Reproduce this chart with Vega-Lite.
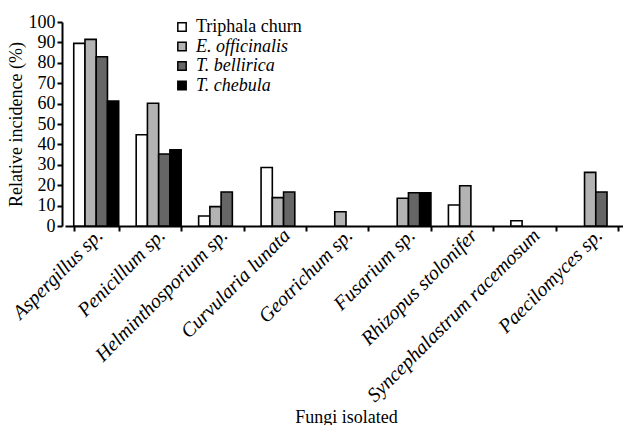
{
  "$schema": "https://vega.github.io/schema/vega-lite/v6.json",
  "width": 562,
  "height": 204,
  "autosize": {"type": "none"},
  "padding": {"left": 65, "top": 22, "right": 0, "bottom": 199},
  "background": "white",
  "config": {
    "view": {"stroke": null},
    "font": "Times New Roman, Liberation Serif, serif",
    "axis": {"grid": false, "domainColor": "black", "tickColor": "black", "labelColor": "black", "titleColor": "black", "domainWidth": 2, "tickWidth": 2, "labelFont": "Times New Roman, Liberation Serif, serif", "titleFont": "Times New Roman, Liberation Serif, serif", "labelFontSize": 18, "titleFontSize": 18, "titleFontWeight": "normal"},
    "legend": {"labelFont": "Times New Roman, Liberation Serif, serif", "labelFontSize": 18, "labelColor": "black"}
  },
  "data": {
    "values": [
      {"fungus": "Aspergillus sp.", "series": "Triphala churn", "value": 89.5},
      {"fungus": "Aspergillus sp.", "series": "E. officinalis", "value": 91.5},
      {"fungus": "Aspergillus sp.", "series": "T. bellirica", "value": 83},
      {"fungus": "Aspergillus sp.", "series": "T. chebula", "value": 61.2},
      {"fungus": "Penicillum sp.", "series": "Triphala churn", "value": 44.7},
      {"fungus": "Penicillum sp.", "series": "E. officinalis", "value": 60.2},
      {"fungus": "Penicillum sp.", "series": "T. bellirica", "value": 35.3},
      {"fungus": "Penicillum sp.", "series": "T. chebula", "value": 37.4},
      {"fungus": "Helminthosporium sp.", "series": "Triphala churn", "value": 4.9},
      {"fungus": "Helminthosporium sp.", "series": "E. officinalis", "value": 9.5},
      {"fungus": "Helminthosporium sp.", "series": "T. bellirica", "value": 16.7},
      {"fungus": "Curvularia lunata", "series": "Triphala churn", "value": 28.7},
      {"fungus": "Curvularia lunata", "series": "E. officinalis", "value": 13.9},
      {"fungus": "Curvularia lunata", "series": "T. bellirica", "value": 16.7},
      {"fungus": "Geotrichum sp.", "series": "E. officinalis", "value": 7.0},
      {"fungus": "Fusarium sp.", "series": "E. officinalis", "value": 13.6},
      {"fungus": "Fusarium sp.", "series": "T. bellirica", "value": 16.3},
      {"fungus": "Fusarium sp.", "series": "T. chebula", "value": 16.3},
      {"fungus": "Rhizopus stolonifer", "series": "Triphala churn", "value": 10.3},
      {"fungus": "Rhizopus stolonifer", "series": "E. officinalis", "value": 19.7},
      {"fungus": "Syncephalastrum racemosum", "series": "Triphala churn", "value": 2.6},
      {"fungus": "Paecilomyces sp.", "series": "E. officinalis", "value": 26.3},
      {"fungus": "Paecilomyces sp.", "series": "T. bellirica", "value": 16.7}
    ]
  },
  "mark": {"type": "bar", "stroke": "black", "strokeWidth": 1.6},
  "encoding": {
    "x": {
      "field": "fungus",
      "type": "nominal",
      "sort": ["Aspergillus sp.", "Penicillum sp.", "Helminthosporium sp.", "Curvularia lunata", "Geotrichum sp.", "Fusarium sp.", "Rhizopus stolonifer", "Syncephalastrum racemosum", "Paecilomyces sp."],
      "scale": {"paddingInner": 0.28, "paddingOuter": 0.14},
      "axis": {
        "title": "Fungi isolated",
        "tickBand": "extent",
        "tickSize": 5,
        "labelAngle": -45,
        "labelAlign": "right",
        "labelBaseline": "middle",
        "labelPadding": 1,
        "labelOffset": 3,
        "labelFontSize": 20,
        "labelFontStyle": "italic",
        "labelLimit": 0,
        "labelOverlap": false,
        "titleY": 196,
        "titleBaseline": "alphabetic"
      }
    },
    "xOffset": {
      "field": "series",
      "type": "nominal",
      "sort": ["Triphala churn", "E. officinalis", "T. bellirica", "T. chebula"],
      "scale": {"domain": ["Triphala churn", "E. officinalis", "T. bellirica", "T. chebula"], "paddingInner": 0, "paddingOuter": 0}
    },
    "y": {
      "field": "value",
      "type": "quantitative",
      "scale": {"domain": [0, 100], "nice": false},
      "axis": {
        "title": "Relative incidence (%)",
        "values": [0, 10, 20, 30, 40, 50, 60, 70, 80, 90, 100],
        "offset": 3,
        "tickSize": 5,
        "labelPadding": 2,
        "titlePadding": 3
      }
    },
    "fill": {
      "field": "series",
      "type": "nominal",
      "sort": ["Triphala churn", "E. officinalis", "T. bellirica", "T. chebula"],
      "scale": {"domain": ["Triphala churn", "E. officinalis", "T. bellirica", "T. chebula"], "range": ["#ffffff", "#b3b3b3", "#666666", "#000000"]},
      "legend": {
        "title": null,
        "orient": "none",
        "legendX": 108,
        "legendY": -4,
        "padding": 0,
        "symbolType": "square",
        "symbolSize": 70,
        "symbolStrokeColor": "black",
        "symbolStrokeWidth": 1.5,
        "symbolOpacity": 1,
        "labelOffset": 5,
        "rowPadding": 1.5,
        "encoding": {
          "labels": {"fontStyle": {"condition": {"test": "datum.label === 'Triphala churn'", "value": "normal"}, "value": "italic"}}
        }
      }
    }
  }
}
